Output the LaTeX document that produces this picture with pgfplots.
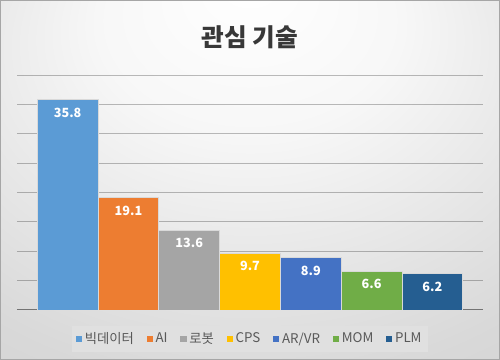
\documentclass[border=0pt]{standalone}
\usepackage{pgfplots}
\pgfplotsset{compat=1.18}
\usepackage{fontspec}
\setmainfont{Noto Sans CJK KR}
\definecolor{c1}{HTML}{5B9BD5}
\definecolor{c2}{HTML}{ED7D31}
\definecolor{c3}{HTML}{A5A5A5}
\definecolor{c4}{HTML}{FFC000}
\definecolor{c5}{HTML}{4472C4}
\definecolor{c6}{HTML}{70AD47}
\definecolor{c7}{HTML}{255E91}
\pgfdeclareradialshading{bgshade}{\pgfpoint{0bp}{28bp}}{color(0bp)=(white); color(15bp)=(white!97!black); color(40bp)=(white!85!black); color(70bp)=(white!77!black)}
\begin{document}
\begin{tikzpicture}
\path[use as bounding box] (0,0) rectangle (375pt,270pt);
\shade[shading=bgshade] (0,0) rectangle (375pt,270pt);
\draw[black!35, line width=0.75pt] (0.375pt,0.375pt) rectangle (374.625pt,269.625pt);
\node[font=\bfseries\fontsize{18.5}{20}\selectfont, text=black!78] at (187.5pt,242pt) {관심 기술};
\begin{axis}[
  at={(12.75pt,37.5pt)}, anchor=south west,
  scale only axis, width=349.5pt, height=176.25pt,
  xmin=-0.833, xmax=6.833, ymin=0, ymax=40,
  ytick={5,10,...,40}, yticklabels={}, xtick=\empty,
  ymajorgrids, grid style={black, opacity=0.26, line width=0.75pt},
  axis line style={draw=none}, major tick length=0pt,
  ybar, bar width=1, bar shift=0pt,
  every axis plot/.append style={draw=white!85!black, line width=0.6pt},
  /pgf/number format/assume math mode=true,
  /pgf/number format/.cd, fixed, fixed zerofill, precision=1, /pgfplots/.cd,
  nodes near coords,
  every node near coord/.append style={anchor=north, yshift=-2.5pt, text=white, font=\bfseries\fontsize{9.5}{10}\selectfont},
  area legend,
  legend image code/.code={\fill[#1,draw=none] (0pt,-2.4pt) rectangle (4.8pt,2.4pt);},
  legend columns=-1,
  legend style={at={(0.5,-0.123)}, anchor=center, draw=none, fill=white!88!black,
    font=\fontsize{10}{11}\selectfont, text=black!65, inner sep=3pt,
    /tikz/every even column/.append style={column sep=7.5pt}},
]
\draw[black!55, line width=0.75pt] (axis cs:-0.833,0) -- (axis cs:6.833,0);
\addplot[fill=c1] coordinates {(0,35.8)};
\addplot[fill=c2] coordinates {(1,19.1)};
\addplot[fill=c3] coordinates {(2,13.6)};
\addplot[fill=c4] coordinates {(3,9.7)};
\addplot[fill=c5] coordinates {(4,8.9)};
\addplot[fill=c6] coordinates {(5,6.6)};
\addplot[fill=c7] coordinates {(6,6.2)};
\legend{빅데이터, AI, 로봇, CPS, AR/VR, MOM, PLM}
\end{axis}
\end{tikzpicture}
\end{document}
